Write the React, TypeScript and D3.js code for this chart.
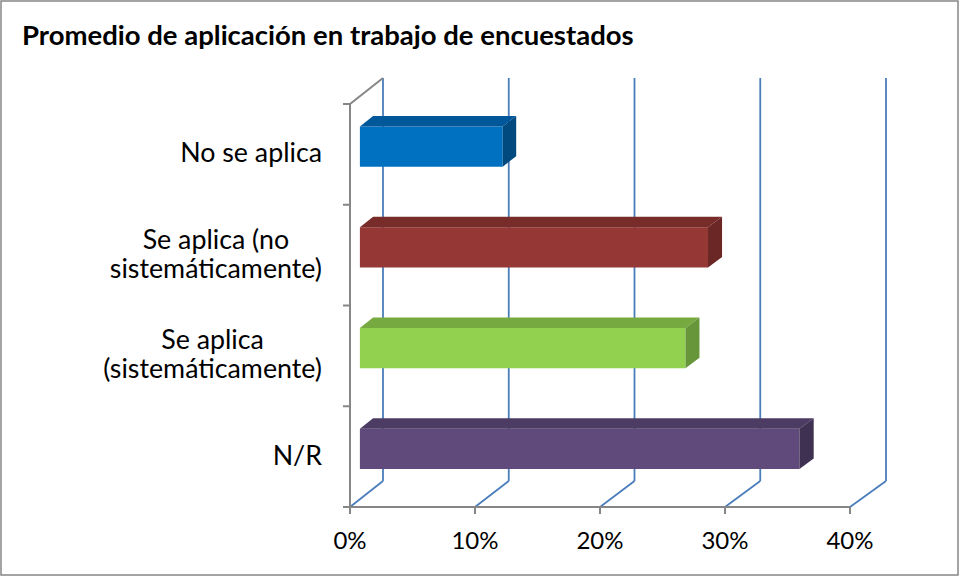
import React, { useEffect, useRef } from 'react';
import * as d3 from 'd3';

// Data
const categories = ['No se aplica', 'Se aplica (no sistemáticamente)', 'Se aplica (sistemáticamente)', 'N/R'];
const labelLines = [['No se aplica'], ['Se aplica (no', 'sistemáticamente)'], ['Se aplica', '(sistemáticamente)'], ['N/R']];
const values = [11.4, 27.8, 26.0, 35.1];
const ticks = [0, 10, 20, 30, 40];
const tickLabels = ['0%', '10%', '20%', '30%', '40%'];

const frontColors = ['#0070C0', '#953735', '#92D050', '#604A7B'];
const topColors = ['#00589A', '#782C2A', '#76A940', '#4C3B63'];
const sideColors = ['#004A80', '#6A2725', '#67963A', '#3F3152'];

const App = () => {
  const svgRef = useRef<SVGSVGElement>(null);

  useEffect(() => {
    document.body.style.margin = '0';
    const svg = d3.select(svgRef.current);
    svg.selectAll('*').remove();

    const width = 961;
    const height = 578;
    const font = 'Lato, "Open Sans", sans-serif';

    // plot box (front wall / floor) and depth offset
    const x0 = 350, x1 = 850;
    const yTop = 104, yBot = 507;
    const depthDy = 26;

    const xFront = d3.scaleLinear().domain([0, 40]).range([x0, x1]);
    const xBack = d3.scaleLinear().domain([0, 40]).range([383, 886]);
    const y = d3.scaleBand<string>()
      .domain(categories)
      .range([yTop, yBot])
      .paddingInner(0.6)
      .paddingOuter(0.3);
    const step = y.step();

    // project (value, front-wall y, depth 0..1) to screen
    const px = (v: number, d: number) => (1 - d) * xFront(v) + d * xBack(v);
    const py = (yy: number, d: number) => yy - d * depthDy;

    // border
    svg.append('rect')
      .attr('x', 1).attr('y', 1)
      .attr('width', width - 4).attr('height', height - 4)
      .attr('fill', '#fff')
      .attr('stroke', '#868686')
      .attr('stroke-width', 1.5);

    // title
    const title = svg.append('text')
      .attr('x', 22).attr('y', 45)
      .attr('font-family', font)
      .attr('font-weight', 'bold')
      .attr('font-size', 24)
      .attr('fill', '#000')
      .text('Promedio de aplicación en trabajo de encuestados');
    const tw = (title.node() as SVGTextElement).getComputedTextLength();
    title.attr('font-size', 24 * 612 / tw);

    const grid = '#4A7EBB';
    const axisGray = '#868686';

    // back wall verticals and floor diagonals
    ticks.forEach(t => {
      svg.append('line')
        .attr('x1', px(t, 1)).attr('y1', py(yTop, 1) )
        .attr('x2', px(t, 1)).attr('y2', py(yBot, 1))
        .attr('stroke', grid).attr('stroke-width', 1.8);
      svg.append('line')
        .attr('x1', px(t, 0)).attr('y1', yBot)
        .attr('x2', px(t, 1)).attr('y2', py(yBot, 1))
        .attr('stroke', grid).attr('stroke-width', 1.8);
    });

    // left wall edges
    svg.append('line')
      .attr('x1', x0).attr('y1', yTop).attr('x2', px(0, 1)).attr('y2', py(yTop, 1))
      .attr('stroke', axisGray).attr('stroke-width', 2);
    svg.append('line')
      .attr('x1', x0).attr('y1', yTop).attr('x2', x0).attr('y2', yBot)
      .attr('stroke', axisGray).attr('stroke-width', 2);
    // floor front edge
    svg.append('line')
      .attr('x1', x0).attr('y1', yBot).attr('x2', x1).attr('y2', yBot)
      .attr('stroke', axisGray).attr('stroke-width', 2);

    // category boundary ticks
    d3.range(categories.length + 1).forEach(i => {
      const yy = yTop + i * step;
      svg.append('line')
        .attr('x1', x0 - 7).attr('y1', yy).attr('x2', x0).attr('y2', yy)
        .attr('stroke', axisGray).attr('stroke-width', 2);
    });

    // value ticks and labels
    ticks.forEach((t, i) => {
      svg.append('line')
        .attr('x1', xFront(t)).attr('y1', yBot).attr('x2', xFront(t)).attr('y2', yBot + 7)
        .attr('stroke', axisGray).attr('stroke-width', 2);
      svg.append('text')
        .attr('x', xFront(t)).attr('y', 549)
        .attr('text-anchor', 'middle')
        .attr('font-family', font)
        .attr('font-size', 24)
        .attr('fill', '#000')
        .text(tickLabels[i]);
    });

    // category labels (lines centered, block right aligned)
    const probe = svg.append('text')
      .attr('font-family', font).attr('font-size', 24)
      .text('(sistemáticamente)');
    const pw = (probe.node() as SVGTextElement).getComputedTextLength();
    probe.remove();
    const labelSize = 24 * 219 / pw;
    const lineH = 29;
    categories.forEach((c, i) => {
      const lines = labelLines[i];
      const g = svg.append('g');
      const texts = lines.map(l => g.append('text')
        .attr('font-family', font)
        .attr('font-size', labelSize)
        .attr('fill', '#000')
        .attr('text-anchor', 'middle')
        .text(l));
      const maxW = d3.max(texts, t => (t.node() as SVGTextElement).getComputedTextLength()) || 0;
      const cx = 322 - maxW / 2;
      const cy = (y(c) as number) + y.bandwidth() / 2;
      const first = cy - ((lines.length - 1) * lineH) / 2 + 8;
      texts.forEach((t, k) => t.attr('x', cx).attr('y', first + k * lineH));
    });

    // bars
    const dF = 0.3, dB = 0.7;
    categories.forEach((c, i) => {
      const v = values[i];
      const t = y(c) as number;
      const b = t + y.bandwidth();
      const pts = (arr: [number, number, number][]) =>
        arr.map(([vv, yy, d]) => `${px(vv, d)},${py(yy, d)}`).join(' ');
      // front
      svg.append('polygon')
        .attr('points', pts([[0, t, dF], [v, t, dF], [v, b, dF], [0, b, dF]]))
        .attr('fill', frontColors[i]);
      // top
      svg.append('polygon')
        .attr('points', pts([[0, t, dF], [v, t, dF], [v, t, dB], [0, t, dB]]))
        .attr('fill', topColors[i]);
      // right side
      svg.append('polygon')
        .attr('points', pts([[v, t, dF], [v, t, dB], [v, b, dB], [v, b, dF]]))
        .attr('fill', sideColors[i]);
    });
  }, []);

  return (
    <div>
      <svg ref={svgRef} width={961} height={578} style={{ display: 'block' }}></svg>
    </div>
  );
};

export default App;
